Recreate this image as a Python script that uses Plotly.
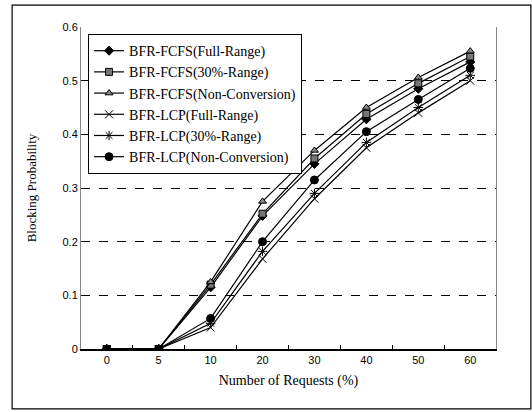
import plotly.graph_objects as go

categories = ["0", "5", "10", "20", "30", "40", "50", "60"]
fcfs_full = [0, 0, 0.115, 0.248, 0.345, 0.428, 0.485, 0.535]
fcfs_30 = [0, 0, 0.120, 0.252, 0.355, 0.438, 0.495, 0.545]
fcfs_nc = [0, 0, 0.125, 0.275, 0.370, 0.450, 0.506, 0.555]
lcp_full = [0, 0, 0.040, 0.168, 0.280, 0.375, 0.440, 0.500]
lcp_30 = [0, 0, 0.048, 0.182, 0.290, 0.385, 0.450, 0.510]
lcp_nc = [0, 0, 0.057, 0.200, 0.315, 0.405, 0.465, 0.523]
y_ticks = [0, 0.1, 0.2, 0.3, 0.4, 0.5, 0.6]
y_tick_labels = ["0", "0.1", "0.2", "0.3", "0.4", "0.5", "0.6"]

series = [
    ("BFR-FCFS(Full-Range)", fcfs_full, "diamond", "black", 7),
    ("BFR-FCFS(30%-Range)", fcfs_30, "square", "#777777", 7),
    ("BFR-FCFS(Non-Conversion)", fcfs_nc, "triangle-up", "#888888", 7),
    ("BFR-LCP(Full-Range)", lcp_full, "x-thin-open", "black", 8),
    ("BFR-LCP(30%-Range)", lcp_30, "asterisk-open", "black", 8),
    ("BFR-LCP(Non-Conversion)", lcp_nc, "circle", "black", 8),
]

fig = go.Figure()
for name, vals, sym, col, sz in series:
    fig.add_trace(go.Scatter(
        x=categories, y=vals, name=name, mode="lines+markers",
        line=dict(color="black", width=1.2),
        marker=dict(symbol=sym, color=col, size=sz,
                    line=dict(color="black", width=1)),
    ))

fig.update_layout(
    width=532, height=412,
    margin=dict(l=81, r=36, t=27, b=63),
    paper_bgcolor="white", plot_bgcolor="white",
    showlegend=True,
    legend=dict(
        x=0.017, y=0.978, xanchor="left", yanchor="top",
        bgcolor="white", bordercolor="black", borderwidth=1,
        font=dict(family="Liberation Serif", size=14, color="black"),
        tracegroupgap=0, itemwidth=30,
    ),
    font=dict(family="Liberation Sans", size=11, color="black"),
)

fig.update_xaxes(
    type="category", tickson="boundaries", ticks="inside", ticklen=4,
    tickcolor="black", showgrid=False, showline=True, linecolor="black",
    linewidth=1.5, mirror=False,
    title=dict(text="Number of Requests (%)",
               font=dict(family="Liberation Serif", size=14), standoff=10),
    tickfont=dict(family="Liberation Sans", size=11),
)
fig.update_yaxes(
    range=[0, 0.6], tickmode="array", tickvals=y_ticks, ticktext=y_tick_labels,
    ticks="inside", ticklen=4,
    tickcolor="black", showgrid=True, gridcolor="black", griddash="dash",
    gridwidth=1, zeroline=False, showline=True, linecolor="#888888",
    linewidth=1, mirror=True,
    title=dict(text="Blocking Probability",
               font=dict(family="Liberation Serif", size=13), standoff=22),
    tickfont=dict(family="Liberation Sans", size=11),
)

# outer frame
fig.add_shape(type="rect", xref="paper", yref="paper",
              x0=-0.166, x1=1.084, y0=-0.186, y1=1.068,
              line=dict(color="black", width=1.2), layer="below")

fig.write_html("out.html")
